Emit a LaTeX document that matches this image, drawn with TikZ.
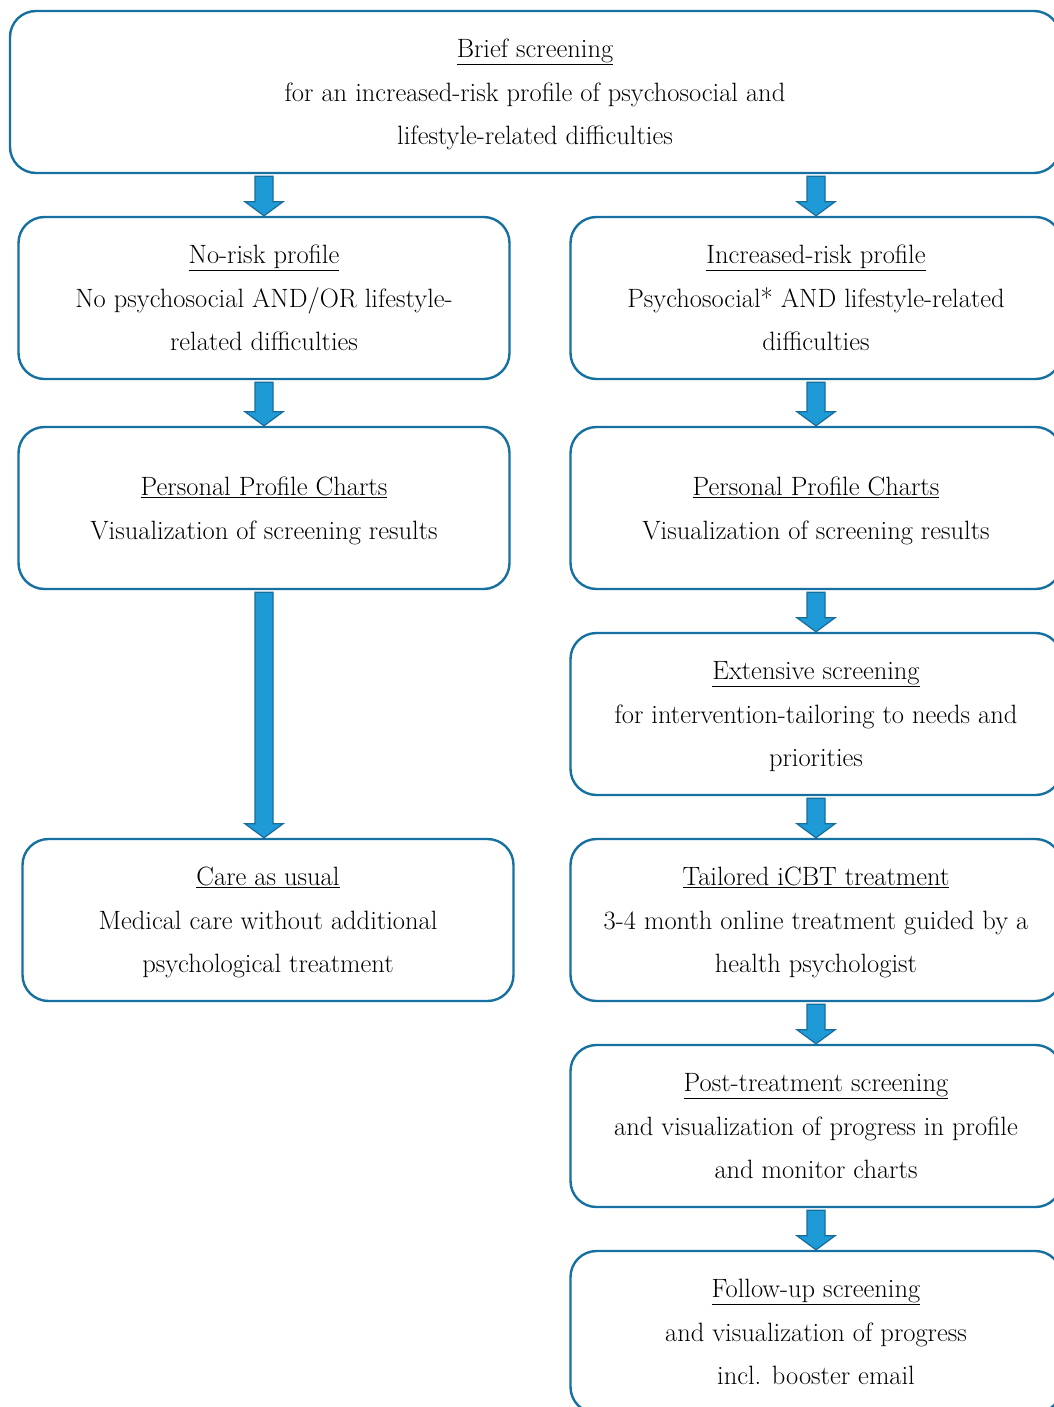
\documentclass[tikz,border=0pt]{standalone}
\usepackage{tikz}
\usetikzlibrary{calc,positioning}
\definecolor{boxblue}{RGB}{22,112,160}
\definecolor{arrowblue}{RGB}{30,155,214}
\definecolor{arrowedge}{RGB}{24,108,155}
\tikzset{
  stagebox/.style={draw=boxblue,line width=2.4pt,rounded corners=26pt,
    minimum width=491pt,minimum height=162pt,align=center,text depth=-12pt,
    font=\fontsize{26.5}{43.5}\selectfont},
}
% block arrow from the bottom of #2 to the top of #3, placed at the x of #1
\newcommand{\flowarrow}[3][]{%
  \def\arrx{#1}\ifx\arrx\empty\def\arrx{#3}\fi
  \draw[arrowedge,fill=arrowblue,line width=1.2pt,line join=miter]
    ($(\arrx.south |- #2.south)+(-9,2)$) -- ($(\arrx.south |- #3.north)+(-9,-14)$) -- ++(-10,0)
    -- (\arrx.south |- #3.north) -- ($(\arrx.south |- #3.north)+(19,-14)$) -- ++(-10,0)
    -- ($(\arrx.south |- #2.south)+(9,2)$) -- cycle;}

\begin{document}
\begin{tikzpicture}[x=1pt,y=-1pt]
  \useasboundingbox (0,0) rectangle (1053,1407);
  \fill[white] (0,0) rectangle (1053,1407);

  \node[stagebox,minimum width=1050pt] (brief) at (535,92)
    {\underline{Brief screening}\\for an increased-risk profile of psychosocial and\\lifestyle-related difficulties};

  % left column
  \node[stagebox] (norisk) at (264,298)
    {\underline{No-risk profile}\\No psychosocial AND/OR lifestyle-\\related difficulties};
  \node[stagebox,below=45.6pt of norisk] (ppcL)
    {\underline{Personal Profile Charts}\\Visualization of screening results};
  \node[stagebox] (care) at (268,920)
    {\underline{Care as usual}\\Medical care without additional\\psychological treatment};

  % right column
  \node[stagebox] (incrisk) at (816,298)
    {\underline{Increased-risk profile}\\Psychosocial* AND lifestyle-related\\difficulties};
  \node[stagebox,below=45.6pt of incrisk] (ppcR)
    {\underline{Personal Profile Charts}\\Visualization of screening results};
  \node[stagebox,below=41.6pt of ppcR] (extensive)
    {\underline{Extensive screening}\\for intervention-tailoring to needs and\\priorities};
  \node[stagebox,below=41.6pt of extensive] (icbt)
    {\underline{Tailored iCBT treatment}\\3-4 month online treatment guided by a\\health psychologist};
  \node[stagebox,below=41.6pt of icbt] (post)
    {\underline{Post-treatment screening}\\and visualization of progress in profile\\and monitor charts};
  \node[stagebox,below=41.6pt of post] (followup)
    {\underline{Follow-up screening}\\and visualization of progress\\incl. booster email};

  \flowarrow{brief}{norisk}
  \flowarrow{brief}{incrisk}
  \flowarrow{norisk}{ppcL}
  \flowarrow[ppcL]{ppcL}{care}
  \flowarrow{incrisk}{ppcR}
  \flowarrow{ppcR}{extensive}
  \flowarrow{extensive}{icbt}
  \flowarrow{icbt}{post}
  \flowarrow{post}{followup}
\end{tikzpicture}
\end{document}
